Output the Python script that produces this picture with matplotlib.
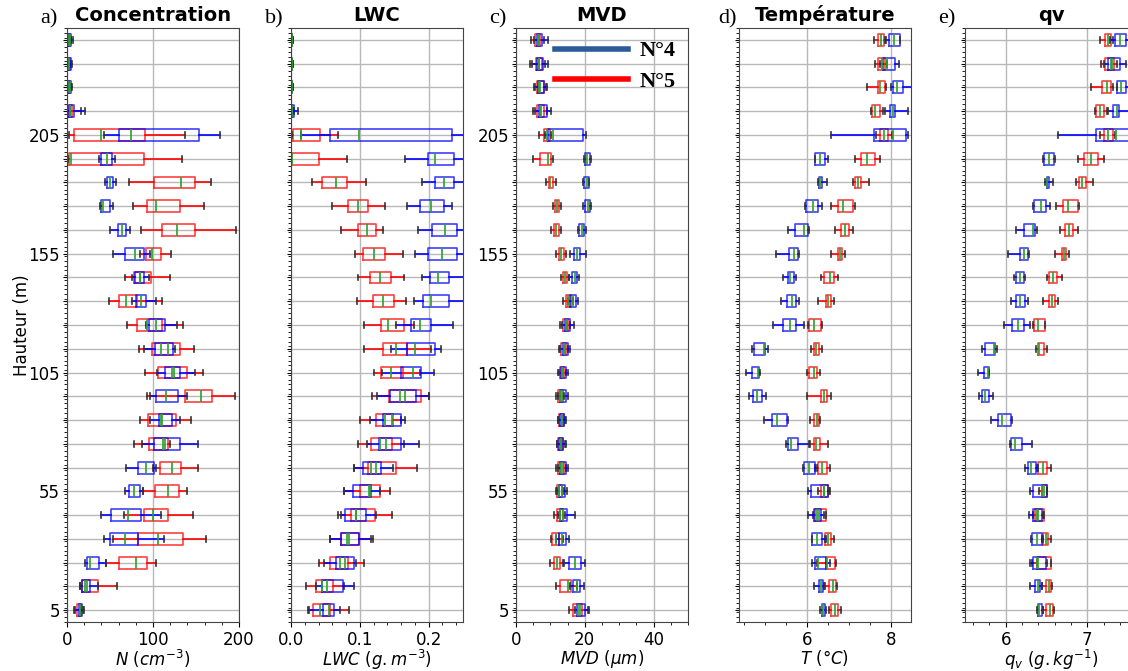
import matplotlib
matplotlib.use('Agg')
import matplotlib.pyplot as plt
from matplotlib.lines import Line2D
from matplotlib.ticker import AutoMinorLocator, MultipleLocator

hauteur = [5, 15, 25, 35, 45, 55, 65, 75, 85, 95, 105, 115, 125,
           135, 145, 155, 165, 175, 185, 195, 205, 215, 225, 235, 245]

# (whisker low, q1, median, q3, whisker high), from 5 m to 245 m
conc_n4 = [(9.8, 13.7, 15.6, 18, 18.8), (15, 18, 21.5, 26.6, 36), (20.7, 23.5, 27, 37.6, 45),
           (43.4, 50, 67.7, 83, 112.7), (39.5, 51.7, 70.5, 86.5, 108.8), (67, 72, 77.5, 85, 88.5),
           (69, 82.6, 92, 101, 103), (87, 100.6, 113.5, 131.5, 152.6), (96, 107, 110, 122, 131),
           (96, 103, 115, 129, 139), (105, 114, 124, 131.5, 149), (89, 102, 109, 123, 125),
           (92, 95, 104, 113.5, 128), (75, 80.6, 86.5, 92, 103), (76, 79, 84.5, 90, 95.5),
           (53, 68, 79, 89, 97), (50, 59, 64, 68.5, 73), (38, 39, 42, 50, 54),
           (44, 47, 50, 54, 57), (37.6, 40, 46, 52, 55.6), (43, 61, 74, 153, 178),
           (0.5, 2, 4, 8, 20.7), (0.5, 1.5, 3, 5, 6), (0.3, 1, 2.5, 5, 6), (0.5, 1.5, 3, 5, 7)]
conc_n5 = [(7.8, 11.7, 15, 16.8, 19.5), (15, 18, 22.7, 36, 58.7), (45, 60, 80, 92.8, 104),
           (53, 83, 105.7, 134.6, 162), (65.7, 90, 100, 117, 146), (88, 102, 118, 130, 139),
           (100, 108, 122, 133, 152), (77.5, 95, 111.5, 117, 120), (84.5, 94, 109, 127, 144),
           (93.5, 137, 156, 169, 195), (91, 106, 122, 139, 158.5), (84, 99, 118, 131, 148),
           (70, 81, 93, 110, 135), (49, 60, 69, 81, 110), (67, 77.5, 85, 98, 120),
           (85, 91.6, 99.4, 109, 120.5), (86, 110, 128, 149, 197), (77, 93, 104, 131, 159),
           (72, 101, 132, 149, 167), (1, 2.3, 5, 90, 134), (2.3, 8, 40, 91, 137),
           (0.5, 2, 3.5, 6, 16), (0.3, 1, 2, 3.5, 5), (0.3, 1, 2, 4, 5), (0.5, 1, 2, 3, 5)]

lwc_n4 = [(0.0258, 0.0462, 0.055, 0.0623, 0.0715), (0.037, 0.0457, 0.0525, 0.075, 0.0915),
          (0.048, 0.065, 0.0715, 0.092, 0.095), (0.057, 0.073, 0.081, 0.0988, 0.1158),
          (0.072, 0.079, 0.095, 0.1095, 0.124), (0.0774, 0.09, 0.113, 0.117, 0.129),
          (0.091, 0.1046, 0.123, 0.131, 0.1484), (0.111, 0.1275, 0.138, 0.16, 0.1864),
          (0.115, 0.134, 0.1475, 0.16, 0.166), (0.1245, 0.1435, 0.166, 0.181, 0.2),
          (0.132, 0.16, 0.178, 0.189, 0.208), (0.146, 0.169, 0.18, 0.21, 0.218),
          (0.153, 0.174, 0.188, 0.204, 0.2355), (0.1785, 0.192, 0.204, 0.2295, 0.27),
          (0.191, 0.2025, 0.214, 0.23, 0.26), (0.18, 0.1995, 0.22, 0.242, 0.26),
          (0.185, 0.205, 0.224, 0.242, 0.265), (0.169, 0.187, 0.204, 0.223, 0.234),
          (0.19, 0.21, 0.223, 0.2375, 0.26), (0.166, 0.1985, 0.21, 0.2375, 0.26),
          (0.015, 0.056, 0.099, 0.2345, 0.28), (0.0, 0.001, 0.002, 0.004, 0.0097),
          (0.0, 0.0005, 0.001, 0.002, 0.003), (0.0, 0.0005, 0.001, 0.002, 0.003),
          (0.0, 0.0005, 0.001, 0.002, 0.003)]
lwc_n5 = [(0.0243, 0.0326, 0.042, 0.0564, 0.085), (0.022, 0.036, 0.0457, 0.0613, 0.0764),
          (0.04, 0.0565, 0.0788, 0.083, 0.106), (0.056, 0.073, 0.0837, 0.0988, 0.119),
          (0.0676, 0.0866, 0.095, 0.1226, 0.147), (0.077, 0.1007, 0.1148, 0.1294, 0.1435),
          (0.091, 0.1124, 0.117, 0.152, 0.1825), (0.098, 0.116, 0.13, 0.1465, 0.164),
          (0.0998, 0.1235, 0.137, 0.1485, 0.16), (0.118, 0.142, 0.1587, 0.189, 0.2),
          (0.12, 0.131, 0.146, 0.1635, 0.188), (0.1065, 0.134, 0.152, 0.169, 0.203),
          (0.106, 0.131, 0.141, 0.164, 0.1795), (0.096, 0.119, 0.133, 0.149, 0.167),
          (0.097, 0.115, 0.129, 0.146, 0.1645), (0.093, 0.105, 0.12, 0.136, 0.163),
          (0.0725, 0.097, 0.11, 0.124, 0.133), (0.059, 0.083, 0.098, 0.112, 0.137),
          (0.031, 0.045, 0.065, 0.081, 0.1095), (0.0, 0.0, 0.001, 0.04, 0.081),
          (0.001, 0.0024, 0.015, 0.042, 0.069), (0.0, 0.0005, 0.001, 0.002, 0.004),
          (0.0, 0.0005, 0.001, 0.002, 0.003), (0.0, 0.0005, 0.001, 0.002, 0.003),
          (0.0, 0.0005, 0.001, 0.002, 0.003)]

mvd_n4 = [(17.1, 17.8, 18.7, 20, 21.2), (15.6, 16.7, 17.6, 18.5, 19.8), (13.9, 15.5, 17.1, 18.8, 20.1),
          (11.7, 12.5, 13.4, 14.5, 15.5), (12.1, 12.7, 13.8, 14.9, 17.1), (11.9, 12.5, 13.3, 14.2, 14.7),
          (12.1, 12.7, 13.6, 14.4, 15), (12, 12.5, 13.2, 13.8, 14.4), (12.3, 12.7, 13.4, 14, 14.4),
          (12.3, 12.9, 13.5, 14.4, 15.2), (12.5, 13.1, 13.8, 14.4, 15), (12.9, 13.6, 14.3, 15.1, 15.6),
          (13.4, 14.1, 14.9, 15.8, 16.9), (15, 15.8, 16.5, 17.3, 18), (15.5, 16.3, 17.1, 17.8, 18.4),
          (15.6, 16.8, 17.7, 18.5, 20.3), (18.1, 18.4, 19.1, 19.9, 20.3), (19.6, 20, 20.8, 21.6, 21.8),
          (19.5, 19.8, 20.5, 21.1, 21.3), (19.7, 20.2, 20.7, 21.6, 21.9), (8.3, 9.3, 10.9, 19.4, 20.3),
          (5.5, 6.8, 7.4, 9, 10.2), (5.6, 6.3, 7, 8, 9), (4.6, 6.1, 6.8, 7.9, 9.3), (5.1, 6, 6.8, 7.7, 9.2)]
mvd_n5 = [(15.5, 16.5, 18, 19.3, 20.9), (11.7, 12.9, 15.2, 16, 17.8), (9.8, 11, 12, 12.8, 13.7),
          (10.1, 10.6, 11.5, 12.5, 13.7), (11.1, 11.8, 12.7, 13.6, 14.3), (11.5, 11.9, 12.6, 13.5, 14),
          (11.7, 12.1, 13, 13.9, 14.4), (11.8, 12.3, 13, 13.7, 14.1), (12.1, 12.5, 13.3, 13.9, 14.3),
          (11.7, 12.1, 12.9, 13.7, 14), (12.2, 12.7, 13.5, 14, 14.6), (12.6, 13.2, 13.9, 14.6, 15.2),
          (12.9, 13.7, 14.4, 15, 15.8), (13.7, 14.4, 15.2, 16, 16.7), (13, 13.6, 14.1, 14.7, 15.4),
          (11.7, 12.4, 13.2, 13.9, 14.6), (10.2, 11.1, 11.7, 12.4, 13.2), (10.7, 11.4, 11.9, 12.6, 13.1),
          (8.6, 9.5, 10, 10.8, 11.7), (4.8, 7.1, 9.3, 10.1, 10.9), (6.8, 8, 9, 10, 10.3),
          (4.8, 6.2, 6.9, 8, 9), (5.1, 6.1, 6.8, 8, 8.6), (4.1, 5.9, 6.8, 7.6, 8.4), (4.3, 5.4, 6.4, 7, 8)]

temp_n4 = [(6.32, 6.35, 6.38, 6.43, 6.46), (6.16, 6.28, 6.34, 6.39, 6.43), (6.13, 6.19, 6.26, 6.45, 6.55),
           (6.12, 6.13, 6.24, 6.37, 6.45), (6.03, 6.16, 6.25, 6.34, 6.4), (6.02, 6.1, 6.4, 6.51, 6.53),
           (5.91, 5.93, 6.06, 6.18, 6.25), (5.49, 5.54, 5.62, 5.79, 6.06), (4.98, 5.17, 5.29, 5.52, 5.54),
           (4.61, 4.71, 4.82, 4.92, 5.02), (4.54, 4.7, 4.83, 4.86, 4.88), (4.68, 4.74, 4.98, 5.01, 5.08),
           (5.18, 5.43, 5.6, 5.75, 5.93), (5.38, 5.53, 5.64, 5.74, 5.81), (5.42, 5.54, 5.6, 5.7, 5.74),
           (5.27, 5.57, 5.69, 5.79, 5.82), (5.54, 5.71, 5.92, 6.02, 6.04), (5.95, 5.97, 6.15, 6.27, 6.35),
           (6.26, 6.28, 6.31, 6.36, 6.47), (6.19, 6.19, 6.32, 6.44, 6.5), (6.58, 7.6, 8.04, 8.35, 8.42),
           (7.87, 7.98, 8.04, 8.11, 8.4), (8.0, 8.06, 8.14, 8.28, 8.6), (7.74, 7.82, 7.9, 8.1, 8.2),
           (7.88, 7.96, 8.08, 8.21, 8.22)]
temp_n5 = [(6.53, 6.58, 6.66, 6.75, 6.8), (6.4, 6.53, 6.62, 6.7, 6.72), (6.24, 6.45, 6.48, 6.68, 6.7),
           (6.42, 6.43, 6.49, 6.58, 6.65), (6.14, 6.2, 6.28, 6.45, 6.46), (6.26, 6.34, 6.41, 6.5, 6.54),
           (6.18, 6.26, 6.37, 6.48, 6.54), (6.08, 6.16, 6.22, 6.31, 6.5), (6.08, 6.17, 6.24, 6.28, 6.32),
           (6.01, 6.34, 6.41, 6.48, 6.58), (6.01, 6.06, 6.17, 6.25, 6.32), (6.1, 6.17, 6.22, 6.29, 6.37),
           (6.03, 6.06, 6.17, 6.34, 6.35), (6.26, 6.45, 6.51, 6.58, 6.65), (6.34, 6.4, 6.54, 6.64, 6.73),
           (6.57, 6.73, 6.78, 6.83, 6.91), (6.67, 6.82, 6.9, 7.0, 7.1), (6.58, 6.73, 6.87, 7.1, 7.14),
           (7.09, 7.15, 7.21, 7.3, 7.47), (7.14, 7.29, 7.42, 7.61, 7.75), (7.65, 7.73, 7.83, 7.93, 8.02),
           (7.53, 7.54, 7.62, 7.73, 7.81), (7.43, 7.7, 7.75, 7.85, 7.88), (7.62, 7.7, 7.78, 7.85, 7.9),
           (7.6, 7.69, 7.76, 7.83, 7.87)]

qv_n4 = [(6.38, 6.39, 6.41, 6.44, 6.46), (6.3, 6.36, 6.4, 6.42, 6.44), (6.3, 6.33, 6.38, 6.49, 6.51),
         (6.31, 6.32, 6.38, 6.44, 6.46), (6.29, 6.34, 6.38, 6.45, 6.46), (6.3, 6.34, 6.44, 6.5, 6.51),
         (6.24, 6.27, 6.31, 6.37, 6.39), (6.05, 6.07, 6.11, 6.2, 6.32), (5.82, 5.91, 5.96, 6.06, 6.08),
         (5.67, 5.71, 5.75, 5.79, 5.84), (5.66, 5.73, 5.78, 5.79, 5.8), (5.71, 5.74, 5.85, 5.87, 5.89),
         (5.98, 6.08, 6.15, 6.22, 6.3), (6.06, 6.13, 6.18, 6.23, 6.27), (6.1, 6.13, 6.18, 6.22, 6.23),
         (6.03, 6.17, 6.22, 6.27, 6.28), (6.13, 6.22, 6.33, 6.36, 6.38), (6.34, 6.35, 6.43, 6.49, 6.54),
         (6.48, 6.5, 6.51, 6.53, 6.58), (6.46, 6.47, 6.53, 6.59, 6.6), (6.64, 7.11, 7.35, 7.6, 7.7),
         (7.26, 7.32, 7.37, 7.39, 7.6), (7.36, 7.37, 7.41, 7.48, 7.6), (7.2, 7.26, 7.29, 7.4, 7.47),
         (7.28, 7.34, 7.4, 7.48, 7.55)]
qv_n5 = [(6.46, 6.49, 6.54, 6.58, 6.59), (6.45, 6.49, 6.53, 6.56, 6.57), (6.32, 6.38, 6.4, 6.55, 6.56),
         (6.45, 6.46, 6.49, 6.52, 6.56), (6.34, 6.36, 6.4, 6.47, 6.47), (6.41, 6.44, 6.47, 6.51, 6.51),
         (6.38, 6.4, 6.46, 6.51, 6.55), None, None, None, None, (6.37, 6.39, 6.41, 6.47, 6.5),
         (6.34, 6.35, 6.4, 6.48, 6.48), (6.46, 6.53, 6.57, 6.6, 6.64), (6.5, 6.53, 6.58, 6.63, 6.69),
         (6.61, 6.69, 6.71, 6.74, 6.77), (6.66, 6.73, 6.78, 6.83, 6.89), (6.62, 6.7, 6.76, 6.89, 6.9),
         (6.86, 6.9, 6.93, 6.98, 7.07), (6.89, 6.96, 7.05, 7.13, 7.2), (7.15, 7.2, 7.26, 7.31, 7.34),
         (7.1, 7.11, 7.16, 7.21, 7.24), (7.04, 7.18, 7.24, 7.29, 7.32), (7.17, 7.22, 7.3, 7.33, 7.36),
         (7.16, 7.22, 7.26, 7.29, 7.31)]

lettres = ['a)', 'b)', 'c)', 'd)', 'e)']
titres = ['Concentration', 'LWC', 'MVD', 'Température', 'qv']
xlabels = [r'$N\ (cm^{-3})$', r'$LWC\ (g.m^{-3})$', r'$MVD\ (\mu m)$', r'$T\ (\degree C)$', r'$q_v\ (g.kg^{-1})$']
xlims = [(0, 200), (0, 0.25), (0, 50), (4.38, 8.48), (5.5, 7.61)]
xticks = [[0, 100, 200], [0.0, 0.1, 0.2], [0, 20, 40], [6, 8], [6, 7]]
donnees = [(conc_n4, conc_n5), (lwc_n4, lwc_n5), (mvd_n4, mvd_n5), (temp_n4, temp_n5), (qv_n4, qv_n5)]
lettre_x = [-0.157, -0.15, -0.157, -0.12, -0.157]


def to_stats(rows):
    stats, pos = [], []
    for h, r in zip(hauteur, rows):
        if r is None:
            continue
        lo, q1, med, q3, hi = r
        stats.append(dict(whislo=lo, q1=q1, med=med, q3=q3, whishi=hi, fliers=[]))
        pos.append(h)
    return stats, pos


def draw(ax, rows, color):
    stats, pos = to_stats(rows)
    ax.bxp(stats, positions=pos, widths=5, orientation='horizontal', showfliers=False,
           manage_ticks=False,
           boxprops=dict(color=color, alpha=0.75, linewidth=1.2),
           whiskerprops=dict(color=color, linewidth=1.2),
           capprops=dict(color='#333333', linewidth=1.2),
           medianprops=dict(color='#2ca02c', linewidth=1.2))


fig = plt.figure(figsize=(11.28, 6.71), dpi=100)
lefts = [67, 291, 516, 739, 965]
ylabels = [str(h) if (h - 5) % 50 == 0 else '' for h in hauteur]

for i in range(5):
    ax = fig.add_axes([lefts[i] / 1128, 49 / 671, 172 / 1128, 594 / 671])
    n4, n5 = donnees[i]
    draw(ax, n5, 'red')
    draw(ax, n4, 'blue')
    ax.set_xlim(*xlims[i])
    ax.set_ylim(0, 250)
    ax.set_xticks(xticks[i])
    ax.xaxis.set_minor_locator(AutoMinorLocator())
    ax.set_yticks(hauteur)
    ax.yaxis.set_minor_locator(MultipleLocator(2))
    if i in (0, 2):
        ax.set_yticklabels(ylabels)
    else:
        ax.set_yticklabels([])
    ax.tick_params(labelsize=12)
    ax.tick_params(axis='y', which='major', length=3, pad=2)
    ax.tick_params(axis='y', which='minor', length=2)
    ax.tick_params(axis='x', which='major', pad=3)
    ax.grid(True, color='#b8b8b8', linewidth=1)
    ax.set_axisbelow(True)
    for s in ax.spines.values():
        s.set_color('#444444')
    ax.set_title(titres[i], fontweight='bold', fontsize=14, pad=5)
    ax.text(lettre_x[i], 1.007, lettres[i], transform=ax.transAxes, fontsize=16,
            family='Liberation Serif', va='baseline')
    ax.set_xlabel(xlabels[i], fontsize=12, labelpad=-1)
    if i == 0:
        ax.set_ylabel('Hauteur (m)', fontsize=12, labelpad=-2)
    if i == 2:
        handles = [Line2D([], [], color='#2b5c9a', linewidth=4),
                   Line2D([], [], color='red', linewidth=4)]
        ax.legend(handles, ['N°4', 'N°5'], loc='upper left', bbox_to_anchor=(0.11, 1.012),
                  frameon=False, handlelength=3.3, handletextpad=0.5, labelspacing=0.45,
                  prop=dict(family='Liberation Serif', weight='bold', size=16))

fig.savefig('out.png', dpi=100)
